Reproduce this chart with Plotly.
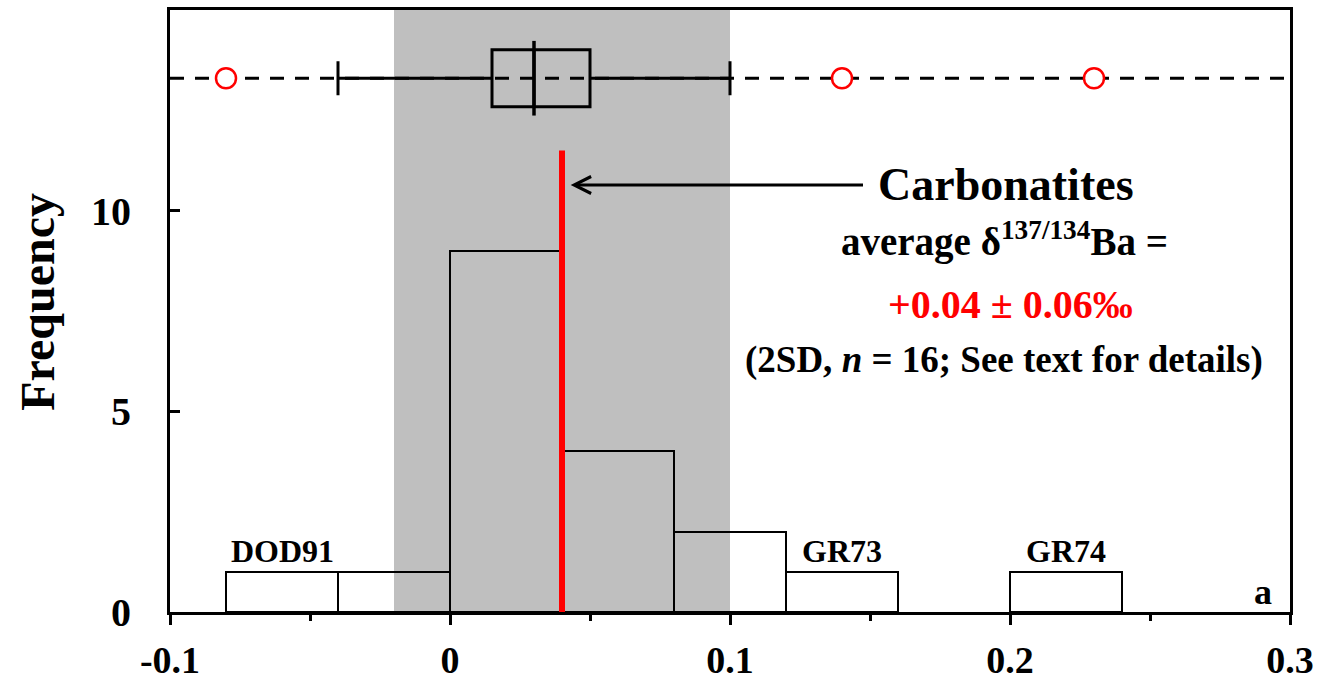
import plotly.graph_objects as go

# ---- data ----
bin_left = [-0.08, -0.04, 0.00, 0.04, 0.08, 0.12, 0.20]
bin_width = 0.04
counts = [1, 1, 9, 4, 2, 1, 1]

box_pos = 13.3
box_q1 = 0.015
box_median = 0.03
box_q3 = 0.05
box_low = -0.04
box_high = 0.10
outliers = [-0.08, 0.14, 0.23]

mean_value = 0.04
mean_line_top = 11.5
band = [-0.02, 0.10]

sample_labels = ["DOD91", "GR73", "GR74"]
sample_x = [-0.06, 0.14, 0.22]

x_ticks = [-0.1, 0.0, 0.1, 0.2, 0.3]
x_ticktext = ["-0.1", "0", "0.1", "0.2", "0.3"]
x_minor = [-0.05, 0.05, 0.15, 0.25]
y_ticks = [0, 5, 10]

FONT = "Liberation Serif"

fig = go.Figure()

# histogram bars (outline only)
fig.add_trace(go.Bar(
    x=bin_left, y=counts, width=bin_width, offset=0,
    marker=dict(color="rgba(0,0,0,0)", line=dict(color="black", width=2)),
    showlegend=False, hoverinfo="skip"))

# mean line
fig.add_trace(go.Scatter(
    x=[mean_value, mean_value], y=[0, mean_line_top], mode="lines",
    line=dict(color="#FF0000", width=6), showlegend=False, hoverinfo="skip"))

# dashed line through the box plot
fig.add_trace(go.Scatter(
    x=[x_ticks[0], x_ticks[-1]], y=[box_pos, box_pos], mode="lines",
    line=dict(color="black", width=3, dash="14px,11px"),
    showlegend=False, hoverinfo="skip"))

# box plot
fig.add_trace(go.Box(
    orientation="h", y=[box_pos], q1=[box_q1], median=[box_median], q3=[box_q3],
    lowerfence=[box_low], upperfence=[box_high], width=1.42, whiskerwidth=0.6,
    fillcolor="rgba(0,0,0,0)", line=dict(color="black", width=3),
    boxpoints=False, showlegend=False, hoverinfo="skip"))

# extended median line
fig.add_trace(go.Scatter(
    x=[box_median, box_median], y=[box_pos - 0.93, box_pos + 0.93], mode="lines",
    line=dict(color="black", width=3.5), showlegend=False, hoverinfo="skip"))

# outliers
fig.add_trace(go.Scatter(
    x=outliers, y=[box_pos] * len(outliers), mode="markers",
    marker=dict(symbol="circle", size=20, color="white",
                line=dict(color="#FF0000", width=2.5)),
    showlegend=False, hoverinfo="skip"))

# gray band
fig.add_shape(type="rect", xref="x", yref="paper", x0=band[0], x1=band[1],
              y0=0, y1=1, fillcolor="#BFBFBF", line=dict(width=0), layer="below")

ann_font = dict(family=FONT, color="black", weight="bold")

# "Carbonatites" with arrow pointing to the mean line
fig.add_annotation(x=0.0431, y=10.64, ax=0.1475, ay=10.64, xref="x", yref="y",
                   axref="x", ayref="y", text="Carbonatites",
                   xanchor="left", yanchor="middle", borderpad=14,
                   showarrow=True, arrowhead=5, arrowsize=1.1, arrowwidth=3,
                   arrowcolor="black", standoff=0,
                   font=dict(size=46, **ann_font))
fig.add_annotation(x=0.198, y=9.27, xref="x", yref="y",
                   text="average δ<sup>137/134</sup>Ba =",
                   showarrow=False, font=dict(size=39, **ann_font))
fig.add_annotation(x=0.2, y=7.65, xref="x", yref="y",
                   text="+0.04 ± 0.06‰", showarrow=False,
                   font=dict(family=FONT, size=40, color="#FF0000", weight="bold"))
fig.add_annotation(x=0.198, y=6.27, xref="x", yref="y",
                   text="(2SD, <i>n</i> = 16; See text for details)",
                   showarrow=False, font=dict(size=37, **ann_font))

for lab, xv in zip(sample_labels, sample_x):
    fig.add_annotation(x=xv, y=1.52, xref="x", yref="y", text=lab,
                       showarrow=False, font=dict(size=32, **ann_font))
fig.add_annotation(x=0.2904, y=0.5, xref="x", yref="y", text="a",
                   showarrow=False, font=dict(size=36, **ann_font))

# y title
fig.add_annotation(x=-0.118, y=0.515, xref="paper", yref="paper", text="Frequency",
                   xanchor="center", yanchor="middle",
                   textangle=-90, showarrow=False, font=dict(size=48, **ann_font))

fig.update_layout(
    width=1321, height=681,
    margin=dict(l=170, r=31, t=10, b=69),
    plot_bgcolor="white", paper_bgcolor="white",
    bargap=0,
    xaxis=dict(range=[-0.1, 0.3], tickvals=x_ticks, ticktext=x_ticktext,
               ticks="outside", ticklen=10, tickwidth=3, tickcolor="black",
               minor=dict(tickvals=x_minor, ticks="outside", ticklen=6,
                          tickwidth=3, tickcolor="black"),
               showline=True, linewidth=3, linecolor="black", mirror=True,
               showgrid=False, zeroline=False, ticklabelstandoff=2,
               automargin=False,
               tickfont=dict(family=FONT, size=38, color="black", weight="bold")),
    yaxis=dict(range=[0, 15], tickvals=y_ticks, ticks="inside", ticklen=10,
               tickwidth=3, tickcolor="black",
               showline=True, linewidth=3, linecolor="black", mirror=True,
               showgrid=False, zeroline=False, ticklabelstandoff=28,
               automargin=False,
               tickfont=dict(family=FONT, size=40, color="black", weight="bold")),
)

fig.write_html("out.html")
